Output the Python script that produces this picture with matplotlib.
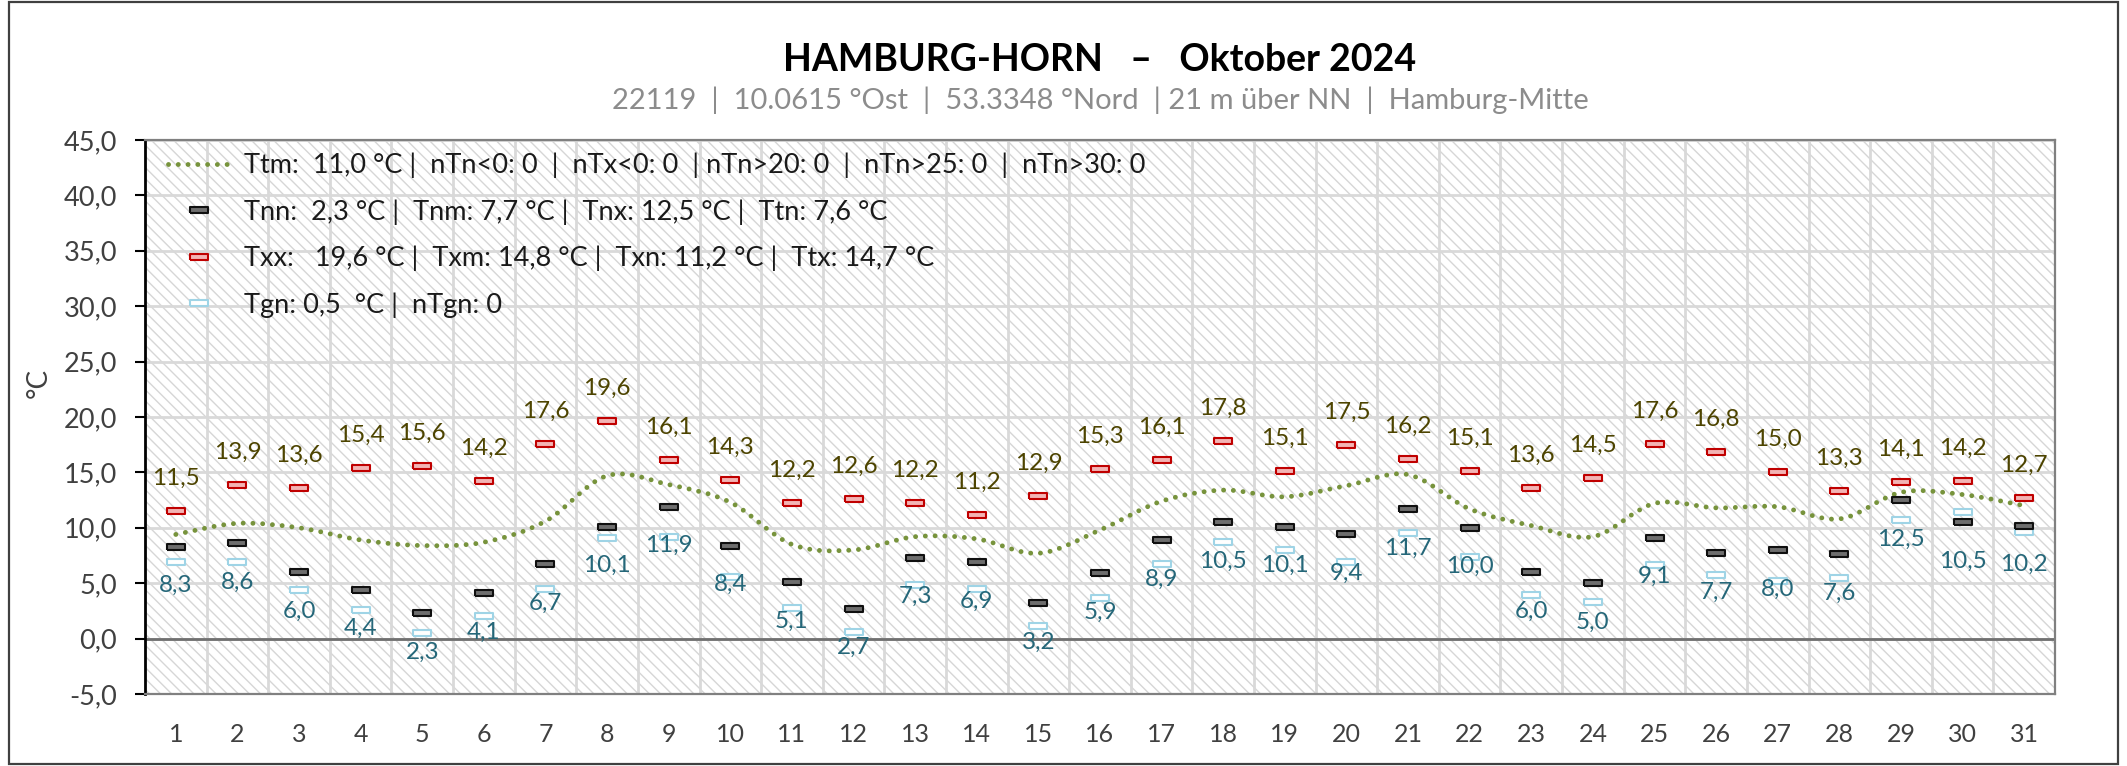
import matplotlib
matplotlib.use("Agg")
import matplotlib.pyplot as plt
from matplotlib.path import Path
from matplotlib.patches import PathPatch, Rectangle
from matplotlib.lines import Line2D
import numpy as np

plt.rcParams['font.family'] = ['Lato', 'DejaVu Sans']
plt.rcParams['hatch.color'] = '#d6d6d6'
plt.rcParams['hatch.linewidth'] = 1.0

days = list(range(1, 32))
tx = [11.5, 13.9, 13.6, 15.4, 15.6, 14.2, 17.6, 19.6, 16.1, 14.3, 12.2, 12.6, 12.2, 11.2, 12.9, 15.3,
      16.1, 17.8, 15.1, 17.5, 16.2, 15.1, 13.6, 14.5, 17.6, 16.8, 15.0, 13.3, 14.1, 14.2, 12.7]
tn = [8.3, 8.6, 6.0, 4.4, 2.3, 4.1, 6.7, 10.1, 11.9, 8.4, 5.1, 2.7, 7.3, 6.9, 3.2, 5.9,
      8.9, 10.5, 10.1, 9.4, 11.7, 10.0, 6.0, 5.0, 9.1, 7.7, 8.0, 7.6, 12.5, 10.5, 10.2]
tgn = [6.9, 6.9, 4.4, 2.6, 0.5, 2.0, 4.5, 9.1, 9.2, 5.6, 2.8, 0.6, 4.8, 4.5, 1.1, 3.7,
       6.7, 8.7, 8.0, 6.9, 9.5, 7.4, 3.9, 3.3, 6.6, 5.7, 5.2, 5.5, 10.7, 11.4, 9.6]
tm = [9.4, 10.4, 10.0, 8.9, 8.4, 8.7, 10.6, 14.7, 13.9, 12.3, 8.5, 8.0, 9.2, 9.0, 7.7, 9.8,
      12.4, 13.4, 12.8, 13.8, 14.8, 11.7, 10.2, 9.2, 12.2, 11.8, 11.9, 10.8, 13.2, 13.0, 12.0]

title = "HAMBURG-HORN   –   Oktober 2024"
subtitle = "22119  |  10.0615 °Ost  |  53.3348 °Nord  | 21 m über NN  |  Hamburg-Mitte"
legend_labels = [
    "Ttm:  11,0 °C |  nTn<0: 0  |  nTx<0: 0  | nTn>20: 0  |  nTn>25: 0  |  nTn>30: 0",
    "Tnn:  2,3 °C |  Tnm: 7,7 °C |  Tnx: 12,5 °C |  Ttn: 7,6 °C",
    "Txx:   19,6 °C |  Txm: 14,8 °C |  Txn: 11,2 °C |  Ttx: 14,7 °C",
    "Tgn: 0,5  °C |  nTgn: 0",
]

W, H = 2127, 766
fig = plt.figure(figsize=(W / 100, H / 100), dpi=100)
fig.patches.append(Rectangle((0.004, 0.003), 0.992, 0.994, transform=fig.transFigure,
                             fill=False, edgecolor='#404040', linewidth=1.6))

ax = fig.add_axes([145 / W, 72 / H, 1910 / W, 554 / H])
ax.set_xlim(0.5, 31.5)
ax.set_ylim(-5, 45)

# hatched background
ax.add_patch(Rectangle((0, 0), 1, 1, transform=ax.transAxes, facecolor='white',
                       edgecolor='#d6d6d6', linewidth=0, hatch='\\\\\\', zorder=0))

ax.set_yticks(np.arange(-5, 46, 5))
ax.set_yticklabels([f"{v:.1f}".replace('.', ',') for v in np.arange(-5, 46, 5)])
ax.set_xticks(days)
ax.set_xticks(np.arange(1.5, 31, 1), minor=True)
ax.tick_params(axis='x', which='both', length=0, pad=21, labelsize=18, labelcolor='#404040')
ax.tick_params(axis='y', length=7, width=1.5, pad=13, labelsize=19.5, labelcolor='#404040')
ax.grid(axis='y', which='major', color='#d9d9d9', linewidth=2, zorder=1)
ax.grid(axis='x', which='minor', color='#d9d9d9', linewidth=2, zorder=1)
ax.set_axisbelow(True)
ax.axhline(0, color='#707070', linewidth=2, zorder=2)

for s in ['top', 'right', 'bottom']:
    ax.spines[s].set_color('#808080')
    ax.spines[s].set_linewidth(1.6)
ax.spines['left'].set_color('black')
ax.spines['left'].set_linewidth(2)

ax.set_ylabel("°C", fontsize=20, color='#404040')
ax.yaxis.set_label_coords(-0.0487, 0.561)

# smoothed mean line
green = '#77933c'
pts = np.column_stack([days, tm])
verts = [pts[0]]
codes = [Path.MOVETO]
for i in range(len(pts) - 1):
    p0 = pts[i - 1] if i > 0 else pts[i]
    p1 = pts[i]
    p2 = pts[i + 1]
    p3 = pts[i + 2] if i + 2 < len(pts) else pts[i + 1]
    verts += [p1 + (p2 - p0) / 6, p2 - (p3 - p1) / 6, p2]
    codes += [Path.CURVE4] * 3
dots = (0, (0.01, 2.0))
ax.add_patch(PathPatch(Path(verts, codes), fill=False, edgecolor=green, linewidth=3.5,
                       linestyle=dots, capstyle='round', zorder=3))

rect = Path([(-1.8, -0.5), (1.8, -0.5), (1.8, 0.5), (-1.8, 0.5), (-1.8, -0.5)])
mk = dict(marker=rect, markersize=13, markeredgewidth=1.5, linestyle='none', zorder=4)
red_kw = dict(markerfacecolor='#f3b4b4', markeredgecolor='#c00000')
blk_kw = dict(markerfacecolor='#6e6e6e', markeredgecolor='#101010')
blu_kw = dict(markerfacecolor='white', markeredgecolor='#9fd4e6')
ax.plot(days, tgn, **mk, **blu_kw)
ax.plot(days, tn, **mk, **blk_kw)
ax.plot(days, tx, **mk, **red_kw)

for d, v in zip(days, tx):
    ax.annotate(f"{v:.1f}".replace('.', ','), (d, v), xytext=(0, 23.5), textcoords='offset points',
                ha='center', va='center', fontsize=17.5, color='#4d4400', zorder=5)
for d, v in zip(days, tn):
    ax.annotate(f"{v:.1f}".replace('.', ','), (d, v), xytext=(0, -28), textcoords='offset points',
                ha='center', va='center', fontsize=17.5, color='#256779', zorder=5)

handles = [
    Line2D([], [], color=green, linewidth=3.5, linestyle=dots, dash_capstyle='round'),
    Line2D([], [], **mk, **blk_kw),
    Line2D([], [], **mk, **red_kw),
    Line2D([], [], **mk, **blu_kw),
]
leg = ax.legend(handles, legend_labels, loc='upper left', frameon=False, fontsize=19.5,
                handlelength=2.3, handletextpad=0.5, labelspacing=0.78,
                borderaxespad=0, bbox_to_anchor=(0.0064, 0.997))
for t in leg.get_texts():
    t.set_color('#1a1a1a')

# title block is centred over the plot area
cx = 1100 / W
fig.text(cx, 1 - 60 / H, title, ha='center', va='center', fontsize=27, fontweight='bold')
fig.text(cx, 1 - 100 / H, subtitle, ha='center', va='center', fontsize=21, color='#8c8c8c')

fig.savefig("out.png", dpi=100)
